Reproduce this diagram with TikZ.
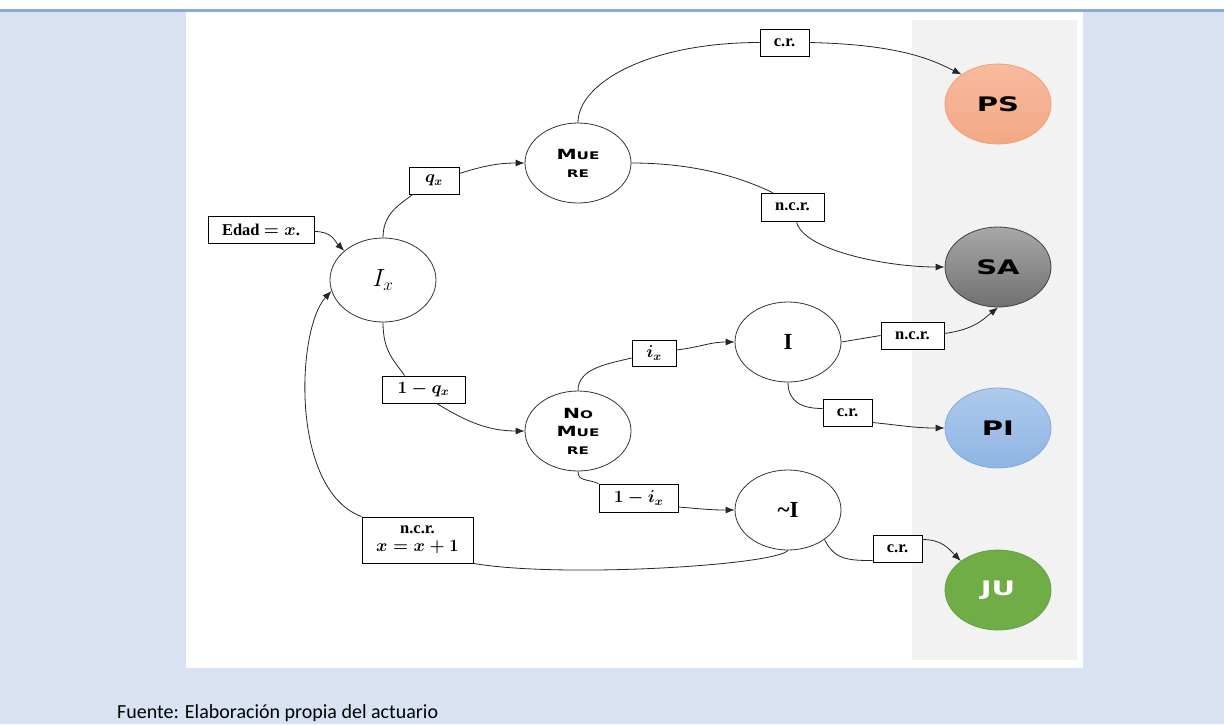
\documentclass[tikz,border=0pt]{standalone}
\usepackage{fontspec}
\setmainfont{Liberation Serif}
\newfontfamily\cpf{DejaVu Sans}
\newfontfamily\calib{Carlito}
\usetikzlibrary{shapes.geometric,arrows.meta,calc}
\definecolor{bgblue}{HTML}{D9E2F3}
\definecolor{lineblue}{HTML}{8EAADB}
\definecolor{greyp}{HTML}{F2F2F2}
\definecolor{psA}{HTML}{F7BB9E}
\definecolor{psB}{HTML}{F3A886}
\definecolor{psD}{HTML}{F2A070}
\definecolor{saA}{HTML}{A8A8A8}
\definecolor{saB}{HTML}{707070}
\definecolor{saD}{HTML}{404040}
\definecolor{piA}{HTML}{AECAEC}
\definecolor{piB}{HTML}{8FB4E3}
\definecolor{piD}{HTML}{7EAAE0}
\definecolor{juF}{HTML}{70AD47}
\definecolor{juD}{HTML}{67A042}
\newcommand\bigCp[1]{{\fontsize{14}{18}\selectfont #1}}
\newcommand\smCp[1]{{\fontsize{10.5}{18}\selectfont #1}}
\newcommand\cpwide[1]{\scalebox{1.45}[1]{#1}}
\newcommand\finwide[1]{\scalebox{1.45}[1]{#1}}
\tikzset{
  st/.style={ellipse, draw=black!80, line width=0.8pt, minimum width=106pt, minimum height=80pt, inner sep=0pt, fill=white, align=center},
  cpnode/.style={st, font=\cpf\bfseries\fontsize{10.5}{18}\selectfont},
  lb/.style={draw=black, line width=0.8pt, fill=white, inner sep=0pt, minimum height=27pt, align=center,
     font=\bfseries\fontsize{16.5}{18}\selectfont\boldmath},
  fin/.style={ellipse, minimum width=106pt, minimum height=80pt, inner sep=0pt, line width=0.8pt,
     font=\cpf\bfseries\fontsize{20}{24}\selectfont},
  cn/.style={line width=0.8pt, draw=black!85},
  ar/.style={cn, -{Latex[length=9pt,width=7pt]}}
}
\begin{document}
\begin{tikzpicture}[x=1pt,y=-1pt]
\useasboundingbox (0,0) rectangle (1224,724);
\fill[bgblue] (0,0) rectangle (1224,724);
\fill[white] (0,0) rectangle (1224,9);
\fill[lineblue] (0,9) rectangle (1224,12);
\fill[white] (186,12) rectangle (1083,668);
\fill[greyp] (912,20) rectangle (1077,660);

% state nodes
\node[st, minimum height=84pt, font=\fontsize{26}{30}\selectfont] (ix) at (383,280) {$I_x$};
\node[cpnode] (mue) at (578,163) {\cpwide{\bigCp{M}\smCp{UE}}\\\cpwide{\smCp{RE}}};
\node[cpnode] (nomue) at (578,431) {\cpwide{\bigCp{N}\smCp{O}}\\\cpwide{\bigCp{M}\smCp{UE}}\\\cpwide{\smCp{RE}}};
\node[st, font=\bfseries\fontsize{23}{26}\selectfont] (iN) at (788,342) {I};
\node[st, font=\bfseries\fontsize{23}{26}\selectfont] (ni) at (788,510) {\textasciitilde I};

% final states
\node[fin, top color=psA, bottom color=psB, draw=psD] (ps) at (998,104) {\finwide{PS}};
\node[fin, top color=saA, bottom color=saB, draw=saD] (sa) at (998,267) {\finwide{SA}};
\node[fin, top color=piA, bottom color=piB, draw=piD] (pi) at (998,428) {\finwide{PI}};
\node[fin, fill=juF, draw=juD, text=white] (ju) at (998,590) {\finwide{JU}};

% label boxes
\node[lb, minimum width=106pt] (edad) at (261,229.5) {Edad $= x$.};
\node[lb, minimum width=50pt] (qx) at (434,180.5) {$q_x$};
\node[lb, minimum width=83pt] (oqx) at (423.5,389.5) {$1-q_x$};
\node[lb, minimum width=111pt, minimum height=46pt] (ncr3) at (417.5,540) {n.c.r.\\$x=x+1$};
\node[lb, minimum width=49pt] (ct) at (784.5,42.5) {c.r.};
\node[lb, minimum width=63pt, minimum height=28pt] (ncr1) at (792.5,207) {n.c.r.};
\node[lb, minimum width=44pt, minimum height=26pt] (ixb) at (654,353) {$i_x$};
\node[lb, minimum width=79pt, minimum height=28pt] (oix) at (638.5,498) {$1-i_x$};
\node[lb, minimum width=63pt] (ncr2) at (912.5,335.5) {n.c.r.};
\node[lb, minimum width=49pt] (crI) at (847.5,412.5) {c.r.};
\node[lb, minimum width=49pt] (crJ) at (897.5,548.5) {c.r.};

% connectors
\draw[ar] ($(edad.east)+(0,2)$) .. controls +(18,0) and +(-10,-10) .. (ix.143);
\draw[cn] (ix.north) .. controls +(0,-25) and +(-12,10) .. ($(qx.south west)+(4,0)$);
\draw[ar] ($(qx.east)+(0,-7)$) .. controls +(25,-8) and +(-25,0) .. (mue.west);
\draw[cn] (mue.north) .. controls +(0,-40) and +(-110,0) .. (ct.west);
\draw[ar] (ct.east) .. controls +(90,2) and +(-30,-15) .. (ps.141);
\draw[cn] (mue.east) .. controls +(70,0) and +(-25,-12) .. ($(ncr1.north west)+(12,0)$);
\draw[ar] ($(ncr1.south)+(4,0)$) .. controls +(5,28) and +(-60,0) .. (sa.west);
\draw[cn] (ix.south) .. controls +(0,30) and +(-10,-15) .. ($(oqx.north west)+(23,0)$);
\draw[ar] ($(oqx.south)+(13,0)$) .. controls +(25,15) and +(-40,0) .. (nomue.west);
\draw[cn] (nomue.north) .. controls +(0,-22) and +(-25,6) .. ($(ixb.west)+(0,5)$);
\draw[ar] ($(ixb.east)+(0,-3)$) .. controls +(25,-3) and +(-25,0) .. (iN.west);
\draw[cn] (iN.east) -- (ncr2.west);
\draw[ar] ($(ncr2.east)+(0,-2)$) .. controls +(30,-4) and +(-15,12) .. (sa.south);
\draw[cn] (iN.south) .. controls +(0,20) and +(-20,0) .. ($(crI.west)+(0,-4)$);
\draw[ar] ($(crI.east)+(0,10)$) .. controls +(30,3) and +(-30,0) .. (pi.west);
\draw[cn] (nomue.south) .. controls +(0,10) and +(-12,-5) .. (oix.north west);
\draw[ar] ($(oix.east)+(0,9)$) .. controls +(25,2) and +(-25,0) .. (ni.west);
\draw[cn] (ni.south) .. controls +(-13,15) and +(87,15) .. (ncr3.south east);
\draw[ar] (ncr3.north west) .. controls +(-72,-27) and +(-35,38) .. (ix.192);
\draw[cn] (ni.-39) .. controls +(10,20) and +(-25,0) .. ($(crJ.west)+(0,12)$);
\draw[ar] ($(crJ.east)+(0,-9)$) .. controls +(20,0) and +(-12,-12) .. (ju.142);

% caption
\node[anchor=base west, font=\calib\fontsize{20}{24}\selectfont, inner sep=0pt] (cap) at (117,718) {Fuente: Elaboración propia del actuario};
\end{tikzpicture}
\end{document}
